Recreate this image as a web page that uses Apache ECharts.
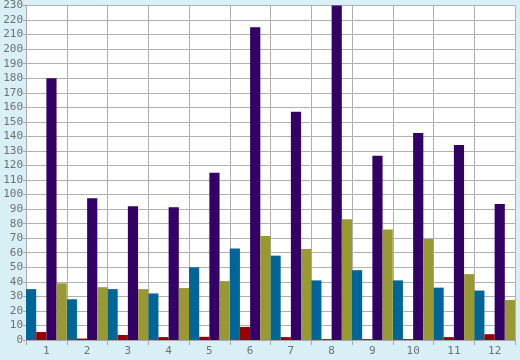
<!DOCTYPE html>
<html><head><meta charset="utf-8">
<script src="https://cdn.jsdelivr.net/npm/echarts@6/dist/echarts.min.js"></script>
<style>html,body{margin:0;padding:0;background:#d9eff6;}#c{width:520px;height:360px;}</style>
</head><body><div id="c"></div>
<script>
var categories = ['1','2','3','4','5','6','7','8','9','10','11','12'];
var blueValues = [35, 28, 35, 32, 50, 63, 58, 41, 48, 41, 36, 34];
var redValues = [5.5, 1, 3.5, 2, 2.2, 9, 2, 0.6, 0.6, 0.6, 2, 4];
var purpleValues = [180, 97.5, 92, 91.3, 115, 215, 157, 240, 126.7, 142.3, 134, 93.5];
var oliveValues = [39, 36.3, 35, 35.7, 40.5, 71.5, 62.5, 83, 76, 69.4, 45.3, 27.5];
var yTicks = {min: 0, max: 230, interval: 10};

var font = {color: '#707070', fontFamily: 'DejaVu Sans Mono', fontSize: 11};
function bar(data, color) {
  return {type: 'bar', data: data, itemStyle: {color: color}, barGap: '0%', barCategoryGap: '0%', clip: true, animation: false};
}
var chart = echarts.init(document.getElementById('c'), null, {renderer: 'canvas'});
chart.setOption({
  backgroundColor: '#d9eff6',
  animation: false,
  grid: {left: 26, right: 5, top: 5.5, bottom: 20, show: true, backgroundColor: '#ffffff', borderWidth: 0},
  xAxis: {
    type: 'category', data: categories,
    axisLine: {lineStyle: {color: '#a8a8a8', width: 1}},
    axisTick: {show: true, length: 5, lineStyle: {color: '#a8a8a8'}},
    axisLabel: Object.assign({margin: 6}, font),
    splitLine: {show: true, lineStyle: {color: '#b0b0b0', width: 1}}
  },
  yAxis: {
    type: 'value', min: yTicks.min, max: yTicks.max, interval: yTicks.interval,
    axisLine: {show: true, lineStyle: {color: '#a8a8a8', width: 1}},
    axisTick: {show: true, length: 3, lineStyle: {color: '#a8a8a8'}},
    axisLabel: Object.assign({margin: 3}, font),
    splitLine: {show: true, lineStyle: {color: '#b0b0b0', width: 1}}
  },
  series: [
    bar(blueValues, '#006699'),
    bar(redValues, '#990000'),
    bar(purpleValues, '#330066'),
    bar(oliveValues, '#999933')
  ]
});
</script></body></html>
